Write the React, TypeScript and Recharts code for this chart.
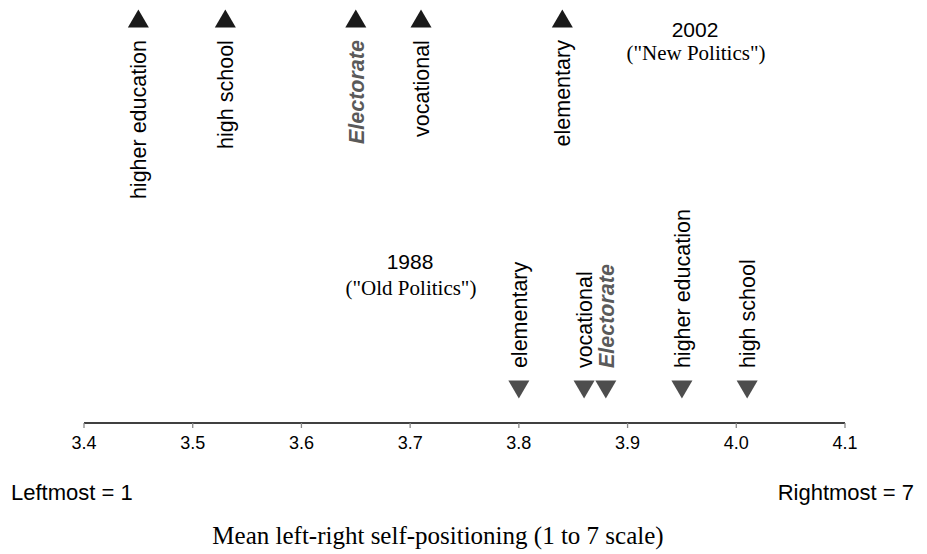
import { ScatterChart, Scatter, XAxis, YAxis } from "recharts";

// education groups and their mean left-right self-positioning
const groups = ["higher education", "high school", "Electorate", "vocational", "elementary"];
const mean2002 = [3.45, 3.53, 3.65, 3.71, 3.84];
const mean1988 = [3.95, 4.01, 3.88, 3.86, 3.8];
const xTicks = [3.4, 3.5, 3.6, 3.7, 3.8, 3.9, 4.0, 4.1];

// vertical placement of each survey row (fraction of plot height)
const ROW_2002 = 0.956;
const ROW_1988 = 0.079;

const SANS = "'Liberation Sans', Arial, sans-serif";
const SERIF = "'Liberation Serif', 'Times New Roman', serif";

const data2002 = groups.map((g, i) => ({ group: g, value: mean2002[i], row: ROW_2002 }));
const data1988 = groups.map((g, i) => ({ group: g, value: mean1988[i], row: ROW_1988 }));

function labelStyle(group: string) {
  const isTotal = group === "Electorate";
  return {
    fill: isTotal ? "#5a5a5a" : "#000",
    fontWeight: isTotal ? 700 : 400,
    fontStyle: isTotal ? "italic" : "normal",
  };
}

const UpMarker = (props: any) => {
  const { cx, cy, payload } = props;
  const s = labelStyle(payload.group);
  return (
    <g>
      <polygon
        points={`${cx - 10.5},${cy + 9} ${cx + 10.5},${cy + 9} ${cx},${cy - 9}`}
        fill="#1a1a1a"
      />
      <text
        transform={`translate(${cx + 8},${cy + 21.5}) rotate(-90)`}
        textAnchor="end"
        fontFamily={SANS}
        fontSize={21.5}
        {...s}
      >
        {payload.group}
      </text>
    </g>
  );
};

const DownMarker = (props: any) => {
  const { cx, cy, payload } = props;
  const s = labelStyle(payload.group);
  return (
    <g>
      <polygon
        points={`${cx - 10.5},${cy - 9} ${cx + 10.5},${cy - 9} ${cx},${cy + 9}`}
        fill="#4d4d4d"
      />
      <text
        transform={`translate(${cx + 8},${cy - 21.5}) rotate(-90)`}
        textAnchor="start"
        fontFamily={SANS}
        fontSize={21.5}
        {...s}
      >
        {payload.group}
      </text>
    </g>
  );
};

export default function App() {
  return (
    <div style={{ position: "absolute", left: 0, top: 0, width: 927, height: 554, background: "#fff" }}>
      <ScatterChart
        width={927}
        height={554}
        margin={{ top: 0, right: 82, left: 84, bottom: 101 }}
      >
        <XAxis
          type="number"
          dataKey="value"
          domain={[3.4, 4.1]}
          ticks={xTicks}
          allowDataOverflow
          height={30}
          tickSize={5}
          tickMargin={8}
          tickFormatter={(v: number) => v.toFixed(1)}
          axisLine={{ stroke: "#000", strokeWidth: 1.3 }}
          tickLine={{ stroke: "#888", strokeWidth: 1.3 }}
          tick={{ fill: "#000", fontSize: 18, fontFamily: SANS }}
        />
        <YAxis type="number" dataKey="row" domain={[0, 1]} hide />
        <Scatter data={data2002} shape={UpMarker} isAnimationActive={false} />
        <Scatter data={data1988} shape={DownMarker} isAnimationActive={false} />
      </ScatterChart>
      <svg
        width={927}
        height={554}
        style={{ position: "absolute", left: 0, top: 0, pointerEvents: "none" }}
      >
        <text x={695} y={37} textAnchor="middle" fontFamily={SANS} fontSize={21}>2002</text>
        <text x={696} y={60} textAnchor="middle" fontFamily={SERIF} fontSize={21}>("New Politics")</text>
        <text x={410} y={269} textAnchor="middle" fontFamily={SANS} fontSize={21}>1988</text>
        <text x={411} y={295} textAnchor="middle" fontFamily={SERIF} fontSize={21}>("Old Politics")</text>
        <text x={11} y={500} fontFamily={SANS} fontSize={22}>Leftmost = 1</text>
        <text x={914} y={500} textAnchor="end" fontFamily={SANS} fontSize={22}>Rightmost = 7</text>
        <text x={438} y={544} textAnchor="middle" fontFamily={SERIF} fontSize={25}>
          Mean left-right self-positioning (1 to 7 scale)
        </text>
      </svg>
    </div>
  );
}
